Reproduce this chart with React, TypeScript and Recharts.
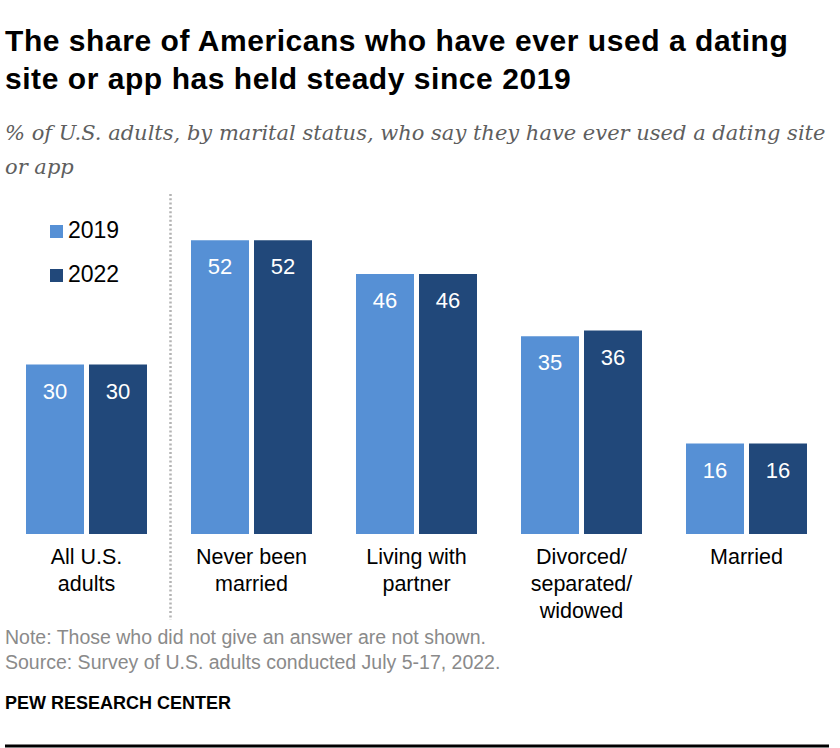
import React from "react"
import { Bar, BarChart, LabelList, XAxis, YAxis } from "recharts"

const categories = ["All U.S. adults", "Never been married", "Living with partner", "Divorced/separated/widowed", "Married"]
const tickLines = [
  ["All U.S.", "adults"],
  ["Never been", "married"],
  ["Living with", "partner"],
  ["Divorced/", "separated/", "widowed"],
  ["Married"],
]
const values2019 = [30, 52, 46, 35, 16]
const values2022 = [30, 52, 46, 36, 16]
const seriesNames = ["2019", "2022"]
const colors = ["#5690d5", "#21487a"]

const data = categories.map((name, i) => ({
  name,
  y2019: values2019[i],
  y2022: values2022[i],
}))

const sans = "'Liberation Sans', Arial, sans-serif"

function CategoryTick({ x, y, index }: any) {
  const lines = tickLines[index] || []
  return (
    <text x={x} y={y} textAnchor="middle" fontFamily={sans} fontSize={21.5} fill="#000">
      {lines.map((l, i) => (
        <tspan key={i} x={x} y={y + 22 + i * 27}>{l}</tspan>
      ))}
    </text>
  )
}

function ValueLabel({ x, y, width, value }: any) {
  return (
    <text x={x + width / 2} y={y + 34} textAnchor="middle" fontFamily={sans} fontSize={22} fill="#fff">
      {value}
    </text>
  )
}

export default function App() {
  return (
    <div style={{ position: "absolute", left: 0, top: 0, width: 840, height: 748, background: "#fff", overflow: "hidden" }}>
      <div style={{ position: "absolute", left: 5, top: 22, fontFamily: sans, fontWeight: 700, fontSize: 30, letterSpacing: 0.55, lineHeight: "38px", color: "#000" }}>
        <div>The share of Americans who have ever used a dating</div>
        <div>site or app has held steady since 2019</div>
      </div>
      <div style={{ position: "absolute", left: 5, top: 116, fontFamily: "'DejaVu Serif', serif", fontStyle: "italic", fontSize: 21, lineHeight: "34px", color: "#5e5e5e" }}>
        <div>% of U.S. adults, by marital status, who say they have ever used a dating site</div>
        <div>or app</div>
      </div>

      <div style={{ position: "absolute", left: 0, top: 0 }}>
        <BarChart
          width={840}
          height={748}
          data={data}
          margin={{ top: 195, right: 11, bottom: 124, left: 4 }}
          barGap={5}
          barCategoryGap={22}
        >
          <XAxis dataKey="name" axisLine={false} tickLine={false} interval={0} height={90} tick={<CategoryTick />} />
          <YAxis hide domain={[0, 60]} />
          <Bar dataKey="y2019" name={seriesNames[0]} fill={colors[0]} isAnimationActive={false}>
            <LabelList dataKey="y2019" content={<ValueLabel />} />
          </Bar>
          <Bar dataKey="y2022" name={seriesNames[1]} fill={colors[1]} isAnimationActive={false}>
            <LabelList dataKey="y2022" content={<ValueLabel />} />
          </Bar>
        </BarChart>
      </div>

      <div style={{ position: "absolute", left: 50, top: 208, fontFamily: sans, fontSize: 23, color: "#000" }}>
        {seriesNames.map((s, i) => (
          <div key={s} style={{ display: "flex", alignItems: "center", height: 44 }}>
            <span style={{ display: "inline-block", width: 13, height: 13, background: colors[i], marginRight: 5, marginTop: 2 }} />
            <span>{s}</span>
          </div>
        ))}
      </div>

      <svg style={{ position: "absolute", left: 0, top: 0 }} width={840} height={748}>
        <line x1={170.5} y1={194} x2={170.5} y2={620} stroke="#b3b3b3" strokeWidth={2.5} strokeDasharray="2 2.3" />
        <line x1={5} y1={746} x2={829} y2={746} stroke="#000" strokeWidth={3} />
      </svg>

      <div style={{ position: "absolute", left: 5, top: 625, fontFamily: sans, fontSize: 19.5, lineHeight: "25px", color: "#8a8a8a" }}>
        <div>Note: Those who did not give an answer are not shown.</div>
        <div>Source: Survey of U.S. adults conducted July 5-17, 2022.</div>
      </div>
      <div style={{ position: "absolute", left: 5, top: 693, fontFamily: sans, fontWeight: 700, fontSize: 18, color: "#000" }}>
        PEW RESEARCH CENTER
      </div>
    </div>
  )
}
